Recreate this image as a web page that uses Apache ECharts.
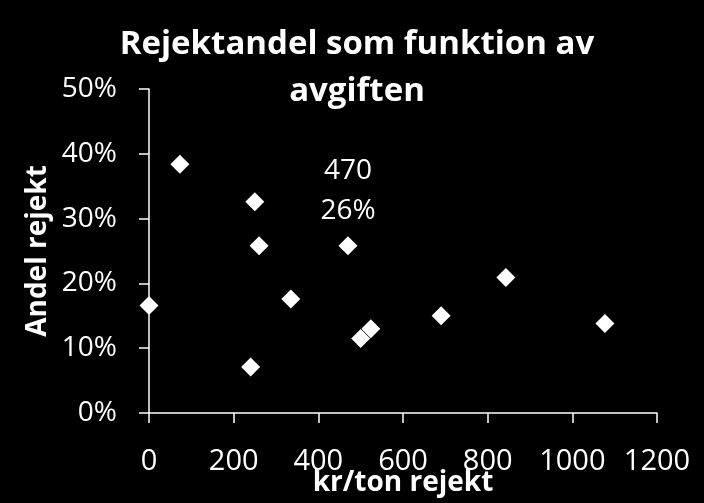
<!DOCTYPE html>
<html><head><meta charset="utf-8">
<script src="https://cdn.jsdelivr.net/npm/echarts@6/dist/echarts.min.js"></script>
<style>html,body{margin:0;padding:0;background:#000}#c{width:704px;height:503px}</style>
</head><body><div id="c"></div>
<script>
const titleText = 'Rejektandel som funktion av\navgiften';
const xName = 'kr/ton rejekt';
const yName = 'Andel rejekt';
const feeKrPerTon = [0, 73, 250, 260, 470, 335, 524, 500, 240, 843, 690, 1077];
const rejectShare = [0.166, 0.384, 0.326, 0.258, 0.258, 0.176, 0.130, 0.115, 0.071, 0.209, 0.150, 0.138];
const labelledIndex = 4;
const xTicks = {min: 0, max: 1200, interval: 200};
const yTicks = {min: 0, max: 0.5, interval: 0.1};

const FONT = '"Open Sans"';
const data = feeKrPerTon.map((x, i) => {
  const d = {value: [x, rejectShare[i]]};
  if (i === labelledIndex) {
    d.label = {show: true, position: 'top', distance: 5, color: '#fff', fontFamily: FONT, fontSize: 28, lineHeight: 40,
      formatter: p => p.value[0] + '\n' + Math.round(p.value[1] * 100) + '%'};
  }
  return d;
});

const chart = echarts.init(document.getElementById('c'), null, {renderer: 'canvas'});
chart.setOption({
  backgroundColor: '#000',
  animation: false,
  title: {text: titleText, left: 352, textAlign: 'center', top: 16,
    textStyle: {color: '#fff', fontFamily: FONT, fontWeight: 'bold', fontSize: 33, lineHeight: 47}},
  grid: {left: 149, right: 47, top: 89, bottom: 90, outerBoundsMode: 'none', containLabel: false},
  xAxis: {type: 'value', min: xTicks.min, max: xTicks.max, interval: xTicks.interval,
    name: xName, nameLocation: 'middle', nameGap: 56, nameMoveOverlap: false,
    nameTextStyle: {color: '#fff', fontFamily: FONT, fontWeight: 'bold', fontSize: 28},
    axisLine: {show: true, lineStyle: {color: '#fff', width: 1.5}},
    axisTick: {show: true, inside: false, length: 10, lineStyle: {color: '#fff', width: 1.5}},
    axisLabel: {color: '#fff', fontFamily: FONT, fontSize: 29, margin: 34, formatter: v => String(v)},
    splitLine: {show: false}},
  yAxis: {type: 'value', min: yTicks.min, max: yTicks.max, interval: yTicks.interval,
    name: yName, nameLocation: 'middle', nameGap: 97, nameRotate: 90, nameMoveOverlap: false,
    nameTextStyle: {color: '#fff', fontFamily: FONT, fontWeight: 'bold', fontSize: 28},
    axisLine: {show: true, lineStyle: {color: '#fff', width: 1.5}},
    axisTick: {show: true, inside: false, length: 10, lineStyle: {color: '#fff', width: 1.5}},
    axisLabel: {color: '#fff', fontFamily: FONT, fontSize: 28, margin: 32,
      formatter: v => Math.round(v * 100) + '%'},
    splitLine: {show: false}},
  series: [{type: 'scatter', symbol: 'diamond', symbolSize: 19,
    itemStyle: {color: '#fff', opacity: 1}, data: data}]
});
</script></body></html>
